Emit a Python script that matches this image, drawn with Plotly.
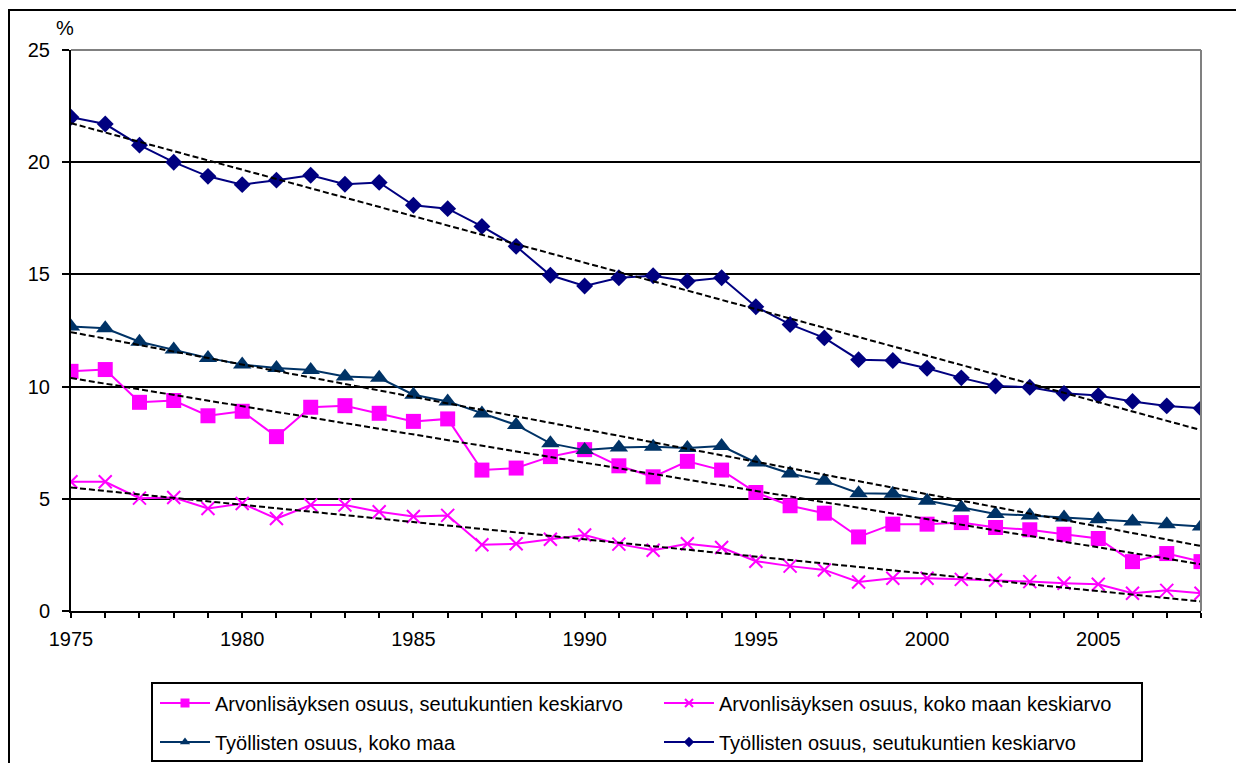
import numpy as np
import plotly.graph_objects as go

years = list(range(1975, 2009))

arvo_seutu = [10.68, 10.76, 9.3, 9.38, 8.7, 8.9, 7.77, 9.08, 9.15, 8.81, 8.45, 8.56, 6.28, 6.37,
              6.88, 7.19, 6.47, 5.98, 6.67, 6.28, 5.28, 4.69, 4.36, 3.3, 3.87, 3.87, 3.94, 3.72,
              3.62, 3.42, 3.23, 2.2, 2.56, 2.2]
arvo_koko = [5.76, 5.76, 5.03, 5.06, 4.57, 4.79, 4.12, 4.72, 4.72, 4.42, 4.21, 4.26, 2.95, 3.0,
             3.2, 3.39, 2.98, 2.71, 3.0, 2.83, 2.22, 2.0, 1.83, 1.29, 1.46, 1.46, 1.41, 1.37,
             1.31, 1.24, 1.19, 0.79, 0.92, 0.79]
tyo_koko = [12.68, 12.6, 12.0, 11.65, 11.28, 10.98, 10.83, 10.74, 10.45, 10.39, 9.64, 9.34, 8.8,
            8.29, 7.47, 7.17, 7.29, 7.32, 7.26, 7.35, 6.62, 6.13, 5.8, 5.25, 5.22, 4.91, 4.61,
            4.32, 4.26, 4.17, 4.09, 3.99, 3.87, 3.77]
tyo_seutu = [22.0, 21.7, 20.76, 20.0, 19.37, 19.0, 19.2, 19.42, 19.02, 19.1, 18.08, 17.93, 17.14,
             16.25, 14.96, 14.48, 14.85, 14.94, 14.7, 14.85, 13.56, 12.77, 12.17, 11.2, 11.16,
             10.82, 10.39, 10.03, 9.97, 9.7, 9.6, 9.34, 9.14, 9.03]

names = ["Arvonlisäyksen osuus, seutukuntien keskiarvo",
         "Arvonlisäyksen osuus, koko maan keskiarvo",
         "Työllisten osuus, koko maa",
         "Työllisten osuus, seutukuntien keskiarvo"]
y_ticks = [0, 5, 10, 15, 20, 25]
x_ticks = [1975, 1980, 1985, 1990, 1995, 2000, 2005]

FONT = "Liberation Sans, Arial, sans-serif"
MAG = "#FF00FF"
TEAL = "#003366"
NAVY = "#000080"

# (values, name, colour, symbol, size, marker line width, legend size)
series = [
    (arvo_seutu, names[0], MAG, "square", 15, 0, 9),
    (arvo_koko, names[1], MAG, "x-thin", 13, 2, 8),
    (tyo_koko, names[2], TEAL, "triangle-up", 16, 0, 9),
    (tyo_seutu, names[3], NAVY, "diamond", 13, 0, 8),
]

fig = go.Figure()
for vals, name, col, sym, size, mlw, lsize in series:
    fig.add_trace(go.Scatter(
        x=years, y=vals, mode="lines+markers", name=name, showlegend=False,
        line=dict(color=col, width=2),
        marker=dict(symbol=sym, size=size, color=col, line=dict(color=col, width=mlw)),
    ))

# linear trend lines (computed from the data)
xs = np.array(years, dtype=float)
for vals, *_ in series:
    k, b = np.polyfit(xs, np.array(vals), 1)
    fig.add_trace(go.Scatter(
        x=[years[0], years[-1]], y=[k * years[0] + b, k * years[-1] + b],
        mode="lines", showlegend=False, hoverinfo="skip",
        line=dict(color="black", width=2, dash="6px,3px"),
    ))

# page has an 8px body margin: figure is shrunk and offset accordingly
OFF = 8
W, H = 1244 - OFF, 763 - OFF
L, R, T, B = 71 - OFF, 43, 50 - OFF, 152
pw, ph = W - L - R, H - T - B
def px_x(p): return (p - OFF - L) / pw
def px_y(p): return (H - B - (p - OFF)) / ph

legend_ids = ["legend", "legend2", "legend3", "legend4"]
slots = [(155, 703), (659, 703), (155, 742), (659, 742)]
for (vals, name, col, sym, size, mlw, lsize), lid in zip(series, legend_ids):
    fig.add_trace(go.Scatter(
        x=[None], y=[None], mode="lines+markers", name=name, legend=lid,
        line=dict(color=col, width=2),
        marker=dict(symbol=sym, size=lsize, color=col, line=dict(color=col, width=mlw if mlw else 0)),
    ))

legend_common = dict(font=dict(family=FONT, size=20, color="black"), bgcolor="rgba(0,0,0,0)",
                     borderwidth=0, itemwidth=50, xanchor="left", yanchor="middle",
                     itemsizing="trace")
layout_legends = {}
for lid, (sx, sy) in zip(legend_ids, slots):
    layout_legends[lid] = dict(legend_common, x=px_x(sx), y=px_y(sy))

fig.update_layout(
    width=W, height=H,
    margin=dict(l=L, r=R, t=T, b=B, autoexpand=False),
    paper_bgcolor="white", plot_bgcolor="white",
    font=dict(family=FONT, size=20, color="black"),
    xaxis=dict(range=[1975, 2008], tickvals=x_ticks, ticks="outside", ticklen=5,
               tickwidth=2, tickcolor="black", showgrid=False, zeroline=False,
               showline=True, linecolor="black", linewidth=2,
               ticklabelstandoff=4, automargin=False,
               minor=dict(dtick=1, tick0=1975, ticks="outside", ticklen=5, tickwidth=2,
                          tickcolor="black", showgrid=False)),
    yaxis=dict(range=[0, 25], tickvals=y_ticks, ticks="outside", ticklen=7, tickwidth=2,
               tickcolor="black", showgrid=True, gridcolor="black", gridwidth=2,
               zeroline=False, showline=True, linecolor="black", linewidth=2,
               ticklabelstandoff=8, automargin=False),
    **layout_legends,
    shapes=[
        dict(type="line", xref="paper", yref="paper", x0=0, x1=1, y0=1, y1=1,
             line=dict(color="#808080", width=2), layer="above"),
        dict(type="line", xref="paper", yref="paper", x0=1, x1=1, y0=0, y1=1,
             line=dict(color="#808080", width=2), layer="above"),
        dict(type="rect", xref="paper", yref="paper",
             x0=px_x(152), x1=px_x(1142), y0=px_y(761), y1=px_y(683),
             line=dict(color="black", width=2)),
        dict(type="rect", xref="paper", yref="paper",
             x0=px_x(9), x1=px_x(1240), y0=px_y(790), y1=px_y(10),
             line=dict(color="black", width=2)),
    ],
    annotations=[
        dict(text="%", xref="paper", yref="paper", x=px_x(65), y=px_y(28),
             xanchor="center", yanchor="middle", showarrow=False,
             font=dict(family=FONT, size=20, color="black")),
    ],
)

fig.write_html("out.html")
